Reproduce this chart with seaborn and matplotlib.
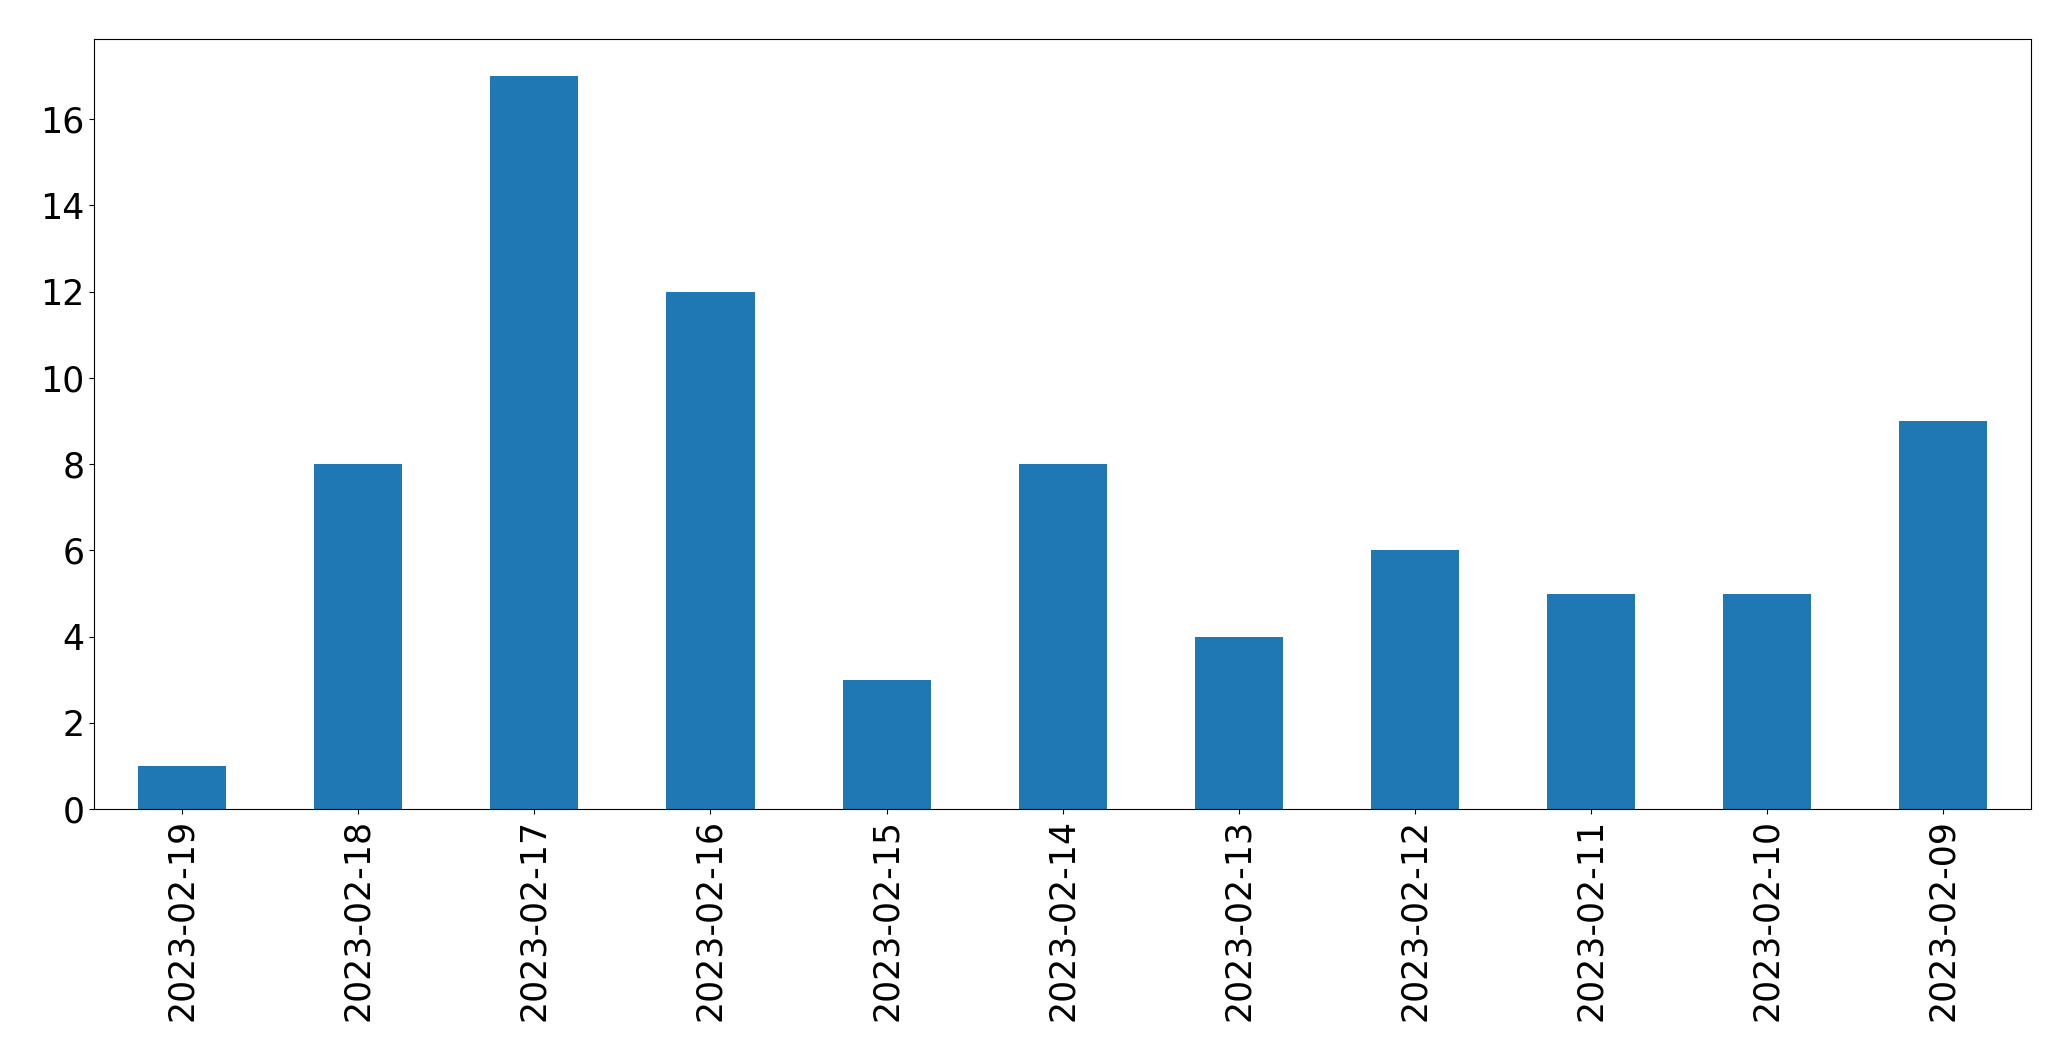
import matplotlib
matplotlib.use("Agg")
import matplotlib.pyplot as plt
import seaborn as sns
import pandas as pd

dates = ["2023-02-19", "2023-02-18", "2023-02-17", "2023-02-16", "2023-02-15",
         "2023-02-14", "2023-02-13", "2023-02-12", "2023-02-11", "2023-02-10",
         "2023-02-09"]
counts = [1, 8, 17, 12, 3, 8, 4, 6, 5, 5, 9]

df = pd.DataFrame({"date": dates, "count": counts})

fig = plt.figure(figsize=(20.71, 10.61), dpi=100)
ax = fig.add_axes([0.0455, 0.2373, 0.9352, 0.7257])
sns.barplot(data=df, x="date", y="count", order=dates, color="#1f77b4",
            saturation=1, width=0.5, linewidth=0, ax=ax)
ax.set_xlim(-0.5, len(dates) - 0.5)
ax.set_ylim(0, 17.85)
ax.set_xlabel("")
ax.set_ylabel("")
ax.tick_params(axis="both", labelsize=25)
ax.tick_params(axis="x", labelrotation=90)
fig.savefig("out.png", dpi=100)
